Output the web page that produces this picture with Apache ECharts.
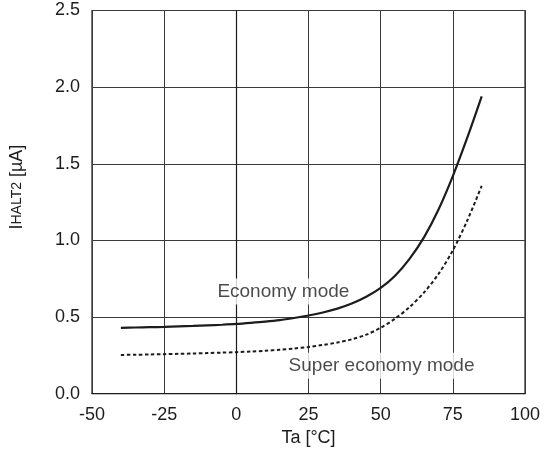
<!DOCTYPE html>
<html>
<head>
<meta charset="utf-8">
<script src="https://cdn.jsdelivr.net/npm/echarts@6/dist/echarts.min.js"></script>
<style>html,body{margin:0;padding:0;background:#fff;}#c{width:551px;height:453px;}</style>
</head>
<body>
<div id="c"></div>
<script>
var temps = [-40, -35, -30, -25, -20, -15, -10, -5, 0, 5, 10, 15, 20, 25, 30, 35, 40, 45, 50, 55, 60, 65, 70, 75, 80, 85];
var economy = [0.430, 0.432, 0.434, 0.436, 0.439, 0.442, 0.446, 0.450, 0.455, 0.462, 0.470, 0.480, 0.494, 0.510, 0.530, 0.555, 0.588, 0.632, 0.690, 0.770, 0.880, 1.020, 1.200, 1.420, 1.670, 1.940];
var superEconomy = [0.253, 0.254, 0.256, 0.258, 0.260, 0.262, 0.265, 0.268, 0.271, 0.275, 0.280, 0.287, 0.295, 0.305, 0.318, 0.334, 0.355, 0.385, 0.430, 0.490, 0.565, 0.660, 0.780, 0.935, 1.130, 1.356];
var annotationTexts = ['Economy mode', 'Super economy mode'];
var annotationAt = [[16.3, 0.666], [50.3, 0.183]];
var xTicks = [-50, -25, 0, 25, 50, 75, 100];
var yTicks = [0.0, 0.5, 1.0, 1.5, 2.0, 2.5];

var ink = '#1f1b1c';
var font = 'Liberation Sans, Arial, Helvetica, sans-serif';

function pairs(xs, ys) { return xs.map(function (x, i) { return [x, ys[i]]; }); }

var chart = echarts.init(document.getElementById('c'), null, {renderer: 'canvas'});
chart.setOption({
  animation: false,
  backgroundColor: '#fff',
  grid: {left: 92, right: 26, top: 10.5, bottom: 59.3, show: true, borderColor: ink, borderWidth: 1.2},
  xAxis: {
    type: 'value', min: xTicks[0], max: xTicks[xTicks.length - 1], interval: 25,
    name: 'Ta [°C]', nameLocation: 'middle', nameGap: 35,
    nameTextStyle: {color: ink, fontSize: 18, fontFamily: font},
    axisLine: {show: true, lineStyle: {color: ink, width: 1.2}},
    axisTick: {show: false},
    axisLabel: {color: ink, fontSize: 18, fontFamily: font, margin: 12},
    splitLine: {show: true, lineStyle: {color: '#3a3a3a', width: 1}}
  },
  yAxis: {
    type: 'value', min: yTicks[0], max: yTicks[yTicks.length - 1], interval: 0.5,
    name: '{a|I}{b|HALT2}{a| [µA]}', nameLocation: 'middle', nameGap: 66, nameRotate: 90,
    nameTextStyle: {color: ink, fontFamily: font, padding: [0, 0, 0, 30],
      rich: {a: {fontSize: 18, fontFamily: font, color: ink}, b: {fontSize: 14, fontFamily: font, color: ink}}},
    axisLine: {show: true, lineStyle: {color: ink, width: 1.2}},
    axisTick: {show: false},
    axisLabel: {color: ink, fontSize: 18, fontFamily: font, margin: 12,
      formatter: function (v) { return v.toFixed(1); }},
    splitLine: {show: true, lineStyle: {color: '#3a3a3a', width: 1}}
  },
  series: [
    {
      type: 'scatter', symbolSize: 0, silent: true, z: 3,
      data: annotationAt.map(function (p, i) { return {value: p, name: annotationTexts[i]}; }),
      label: {show: true, position: 'inside', formatter: '{b}', color: ink, fontSize: 19, fontFamily: font,
        backgroundColor: '#fff', padding: [4, 3, 3, 3]}
    },
    {
      type: 'line', name: 'Economy mode', data: pairs(temps, economy), smooth: 0.3,
      showSymbol: false, z: 4, lineStyle: {color: ink, width: 2.2}
    },
    {
      type: 'line', name: 'Super economy mode', data: pairs(temps, superEconomy), smooth: 0.3,
      showSymbol: false, z: 4, lineStyle: {color: ink, width: 2, type: [3.5, 2.5]}
    }
  ]
});
</script>
</body>
</html>
